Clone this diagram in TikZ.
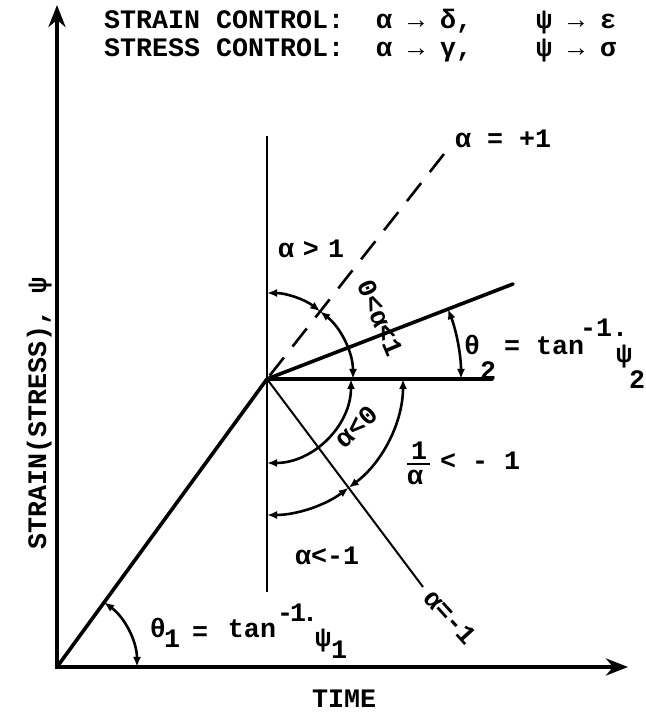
\documentclass[tikz,border=0pt]{standalone}
\usepackage{fontspec}
\newfontfamily\tw{Liberation Mono}
\usetikzlibrary{arrows.meta,calc}
\begin{document}
\begin{tikzpicture}[
  x=1pt, y=1pt,
  every node/.style={inner sep=0pt, outer sep=0pt},
  tw/.style={font=\tw\bfseries\fontsize{26.67}{30}\selectfont},
  axisline/.style={line width=4pt, line join=miter, {Stealth[length=22pt,width=17pt,inset=7pt]}-{Stealth[length=22pt,width=17pt,inset=7pt]}},
  heavy/.style={line width=3.6pt, line cap=round},
  light/.style={line width=2pt},
  dim/.style={line width=2.6pt, {Latex[length=10pt,width=8pt]}-{Latex[length=10pt,width=8pt]}},
  dashline/.style={line width=2.6pt, dash pattern=on 23pt off 14pt},
]
\useasboundingbox (0,0) rectangle (645,714);
\coordinate (O) at (57,47);
\coordinate (Ytop) at (57,709);
\coordinate (Xend) at (628,47);
\coordinate (P) at (267,335);
\coordinate (Vtop) at (267,578);
\coordinate (Vbot) at (267,122);
\coordinate (H) at (492,335);
\coordinate (B) at (513,430);
\coordinate (D) at (444,560);
\coordinate (M) at (423,127);

\draw[axisline] (Ytop) -- (O) -- (Xend);
\draw[heavy] (O) -- (P);
\draw[light] (Vtop) -- (Vbot);
\draw[heavy] (P) -- (H);
\draw[heavy] (P) -- (B);
\draw[light] (P) -- (M);
\draw[dashline] (D) -- (P);

\draw[dim] ($(P)+(90:86)$) arc[start angle=90,end angle=51.8,radius=86];
\draw[dim] ($(P)+(51.8:86)$) arc[start angle=51.8,end angle=0,radius=86];
\draw[dim] ($(P)+(0:84)$) arc[start angle=0,end angle=-90,radius=84];
\draw[dim] ($(P)+(0:136)$) arc[start angle=0,end angle=-53.1,radius=136];
\draw[dim] ($(P)+(-53.1:136)$) arc[start angle=-53.1,end angle=-90,radius=136];
\draw[dim] ($(P)+(0:194)$) arc[start angle=0,end angle=21.1,radius=194];
\draw[dim] ($(O)+(0:80)$) arc[start angle=0,end angle=53.9,radius=80];

% header
\node[tw, anchor=base west] (h1) at (104,685) {STRAIN~CONTROL:~~α~→~δ,~~~~ψ~→~ε};
\node[tw, anchor=base west] (h2) at (104,657) {STRESS~CONTROL:~~α~→~γ,~~~~ψ~→~σ};

% axis labels
\node[tw, rotate=90, anchor=base west] (ylab) at (46,164) {STRAIN(STRESS),~ψ};
\node[tw, anchor=base west] (tlab) at (312,6) {TIME};

% region labels
\node[tw, anchor=base west] (ap1) at (455,566) {α~=~+1};
\node[tw, anchor=base west] (agt1) at (278,456) {α~\kern-7pt>~\kern-7pt1};
\node[tw, rotate=-67] (a01) at (380,396) {0<α<1};
\node[tw, rotate=43] (alt0) at (356,287) {α<0};
\node[tw, rotate=-48] (am1) at (450,97) {α=-1};
\node[tw, anchor=base west] (altm1) at (295,149) {α<-1};
\node[tw] (fnum) at (419,263) {1};
\node[tw] (fden) at (415,237) {α};
\draw[line width=2pt] (407,250) -- (430,250);
\node[tw, anchor=base west] (fr) at (440,244) {<~-~1};

% theta 2 label
\node[tw, anchor=base] (th2) at (472,359) {θ};
\node[tw] (th2s) at (488,343) {2};
\node[tw] (th2e) at (512,366) {=};
\node[tw, anchor=base] (th2t) at (560,359) {tan};
\node[tw, anchor=base west] (th2x) at (580,377) {-1.};
\node[tw] (th2p) at (624,357) {ψ};
\node[tw] (th2ps) at (637,334) {2};

% theta 1 label
\node[tw, anchor=base] (th1) at (158,76) {θ};
\node[tw] (th1s) at (172,75) {1};
\node[tw] (th1e) at (200,80) {=};
\node[tw, anchor=base] (th1t) at (252,76) {tan};
\node[tw, anchor=base west] (th1x) at (277,92) {-\kern-3pt1\kern-4pt.};
\node[tw] (th1p) at (323,73) {ψ};
\node[tw] (th1ps) at (339,64) {1};
\end{tikzpicture}
\end{document}
